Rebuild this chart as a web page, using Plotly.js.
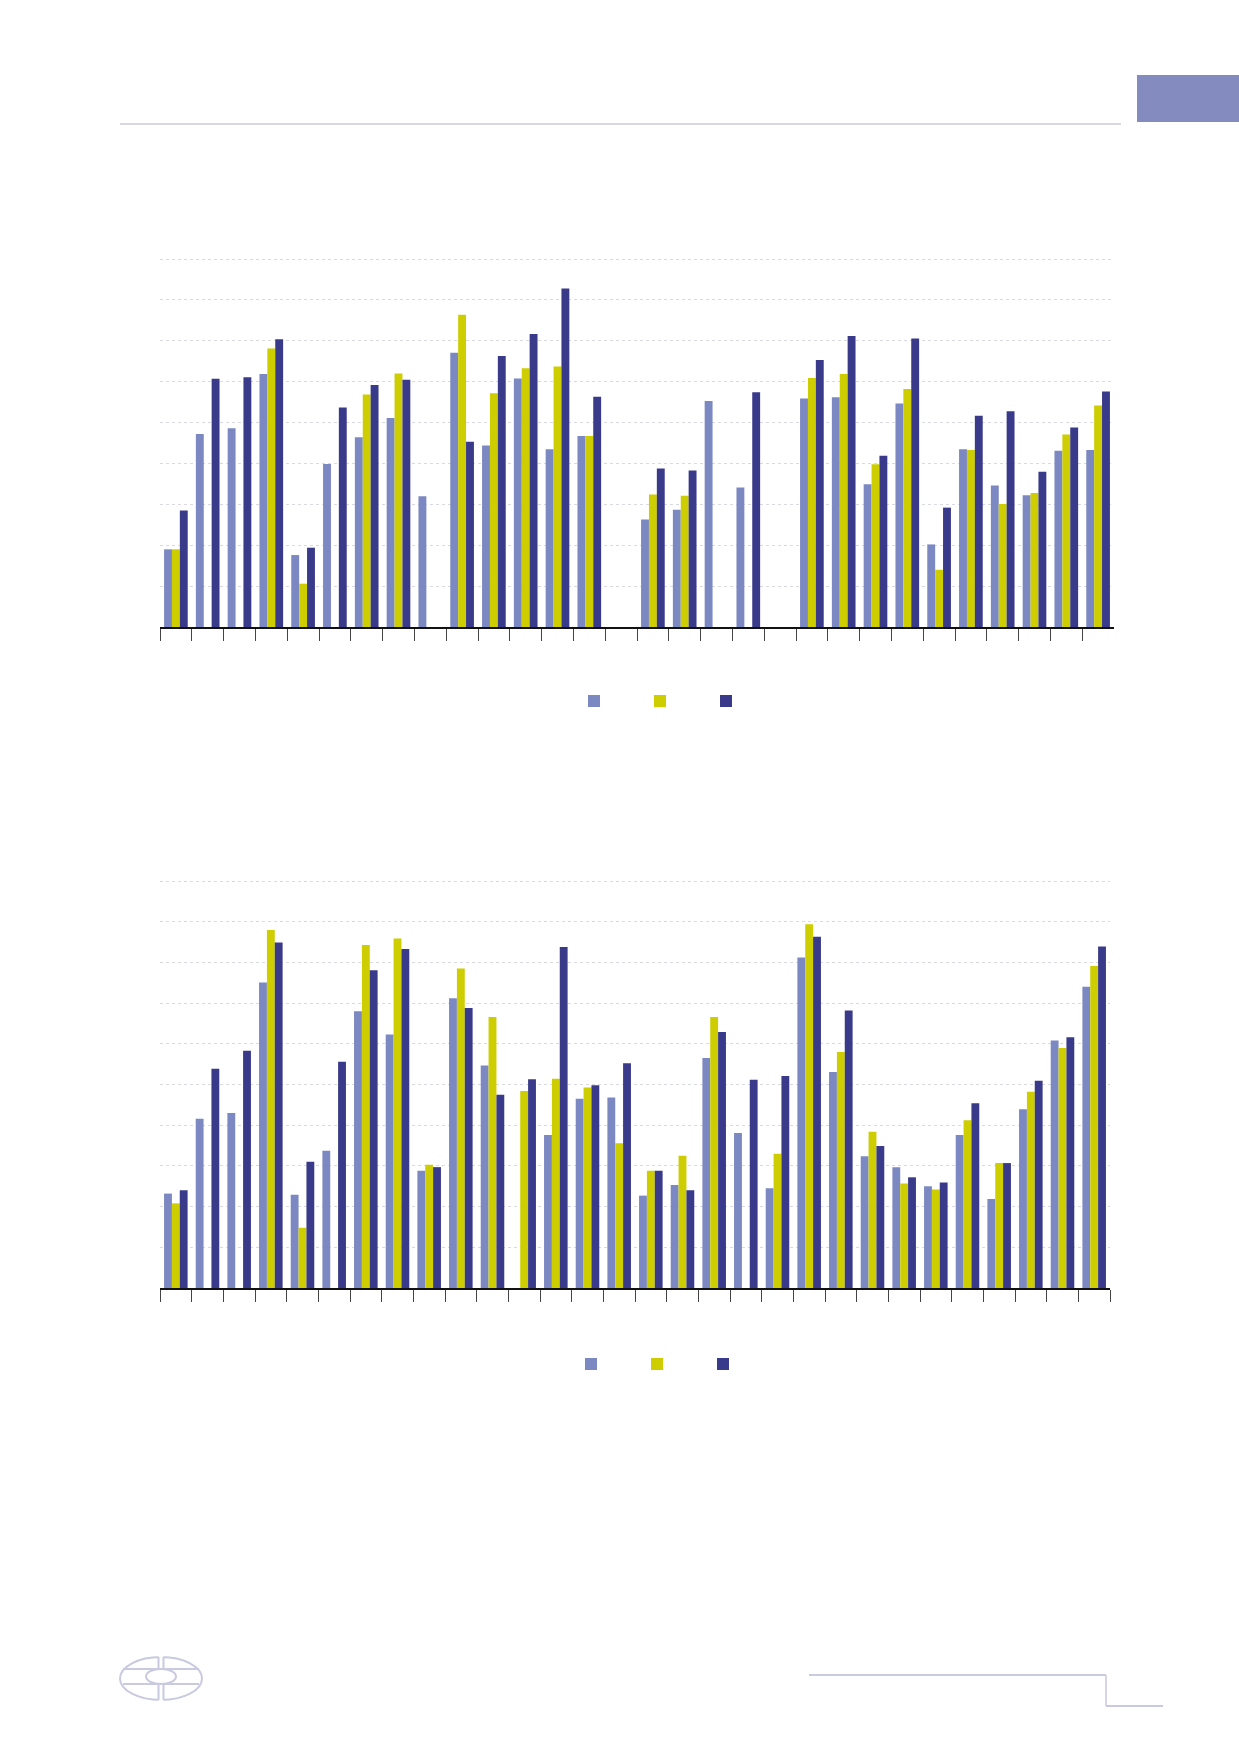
<!DOCTYPE html>
<html>
<head>
<meta charset="utf-8">
<script src="https://cdn.plot.ly/plotly-3.0.1.min.js"></script>
<style>
  html, body { margin: 0; padding: 0; background: #fff; }
  #page { width: 1239px; height: 1752px; }
</style>
</head>
<body>
<div id="page"></div>
<script>
/* ── page chart: two grouped bar panels ── */

const PAGE_W = 1239;
const PAGE_H = 1752;

const LIGHT_COLOR  = "#7c88c1";
const YELLOW_COLOR = "#cdcd00";
const DARK_COLOR   = "#3a3a8a";
const GRID_COLOR   = "#d9d9e4";
const DECO_COLOR   = "#c9c9e0";

/* categories (no labels printed on the page) */
const categories = [
  "1", "2", "3", "4", "5", "6", "7", "8", "9", "10",
  "11", "12", "13", "14", "15", "16", "17", "18", "19", "20",
  "21", "22", "23", "24", "25", "26", "27", "28", "29", "30",
];
const seriesNames = ["", "", ""];

/* upper panel */
const topLight  = [1.90, 4.72, 4.86, 6.19, 1.76, 3.99, 4.64, 5.11, 3.20, 6.71,
                   4.44, 6.08, 4.35, 4.67, null, 2.63, 2.87, 5.53, 3.41, null,
                   5.59, 5.62, 3.49, 5.47, 2.02, 4.35, 3.46, 3.22, 4.31, 4.33];
const topYellow = [1.90, null, null, 6.81, 1.06, null, 5.69, 6.20, null, 7.64,
                   5.72, 6.33, 6.37, 4.67, null, 3.24, 3.21, null, null, null,
                   6.09, 6.19, 3.98, 5.82, 1.40, 4.33, 3.01, 3.28, 4.71, 5.42];
const topDark   = [2.85, 6.07, 6.11, 7.04, 1.94, 5.37, 5.92, 6.05, null, 4.53,
                   6.63, 7.17, 8.28, 5.63, null, 3.88, 3.83, null, 5.74, null,
                   6.53, 7.12, 4.19, 7.06, 2.92, 5.17, 5.28, 3.80, 4.88, 5.76];

/* lower panel */
const botLight  = [2.32, 4.16, 4.30, 7.51, 2.29, 3.37, 6.80, 6.23, 2.88, 7.12,
                   5.47, null, 3.76, 4.65, 4.68, 2.27, 2.53, 5.65, 3.81, 2.45,
                   8.12, 5.31, 3.24, 2.97, 2.50, 3.76, 2.19, 4.39, 6.08, 7.40];
const botYellow = [2.08, null, null, 8.80, 1.48, null, 8.43, 8.59, 3.03, 7.85,
                   6.66, 4.84, 5.14, 4.93, 3.56, 2.88, 3.25, 6.66, null, 3.30,
                   8.94, 5.80, 3.84, 2.57, 2.42, 4.12, 3.07, 4.82, 5.90, 7.91];
const botDark   = [2.40, 5.39, 5.83, 8.49, 3.10, 5.56, 7.81, 8.33, 2.97, 6.88,
                   4.75, 5.13, 8.38, 4.98, 5.52, 2.88, 2.40, 6.29, 5.12, 5.21,
                   8.63, 6.82, 3.49, 2.72, 2.59, 4.54, 3.07, 5.09, 6.16, 8.39];

/* pixel -> paper helpers */
const px = x => x / PAGE_W;
const py = y => 1 - y / PAGE_H;

function barTrace(values, color, name, xa, ya, legend) {
  return {
    type: "bar",
    x: categories,
    y: values,
    name: name,
    xaxis: xa, yaxis: ya,
    legend: legend,
    marker: { color: color, line: { width: 0 } },
    hoverinfo: "skip",
  };
}

const traces = [
  barTrace(topLight,  LIGHT_COLOR,  seriesNames[0], "x",  "y",  "legend"),
  barTrace(topYellow, YELLOW_COLOR, seriesNames[1], "x",  "y",  "legend"),
  barTrace(topDark,   DARK_COLOR,   seriesNames[2], "x",  "y",  "legend"),
  barTrace(botLight,  LIGHT_COLOR,  seriesNames[0], "x2", "y2", "legend2"),
  barTrace(botYellow, YELLOW_COLOR, seriesNames[1], "x2", "y2", "legend2"),
  barTrace(botDark,   DARK_COLOR,   seriesNames[2], "x2", "y2", "legend2"),
];

const xBase = {
  type: "category",
  showline: true, linecolor: "#111", linewidth: 2,
  ticks: "outside", tickson: "boundaries", ticklen: 12, tickwidth: 1, tickcolor: "#444",
  showticklabels: false, showgrid: false, zeroline: false, fixedrange: true,
};
const yBase = {
  showgrid: true, gridcolor: GRID_COLOR, griddash: "dot", gridwidth: 1,
  dtick: 1, showticklabels: false, zeroline: false, showline: false, ticks: "",
  fixedrange: true,
};
const legendBase = {
  orientation: "h", entrywidth: 21, entrywidthmode: "pixels",
  xanchor: "left", yanchor: "middle",
  bgcolor: "rgba(0,0,0,0)", borderwidth: 0,
  font: { family: "Liberation Sans", size: 11, color: "#333" },
};

/* ── decorations: header rule, tab, logo, footer rule ── */
const shapes = [
  { type: "line", xref: "paper", yref: "paper",
    x0: px(120), x1: px(1121), y0: py(124), y1: py(124),
    line: { color: "#d8d8e2", width: 2 } },
  { type: "rect", xref: "paper", yref: "paper",
    x0: px(1137), x1: px(1239), y0: py(122), y1: py(75),
    fillcolor: "#838bbf", line: { width: 0 } },
  /* logo */
  { type: "circle", xref: "paper", yref: "paper",
    x0: px(120), x1: px(202), y0: py(1700), y1: py(1657),
    line: { color: DECO_COLOR, width: 2 } },
  { type: "line", xref: "paper", yref: "paper",
    x0: px(123), x1: px(199), y0: py(1669), y1: py(1669),
    line: { color: DECO_COLOR, width: 2 } },
  { type: "line", xref: "paper", yref: "paper",
    x0: px(123), x1: px(199), y0: py(1684), y1: py(1684),
    line: { color: DECO_COLOR, width: 2 } },
  { type: "rect", xref: "paper", yref: "paper",
    x0: px(158.5), x1: px(163.5), y0: py(1702), y1: py(1655),
    fillcolor: "#fff", line: { width: 0 } },
  { type: "circle", xref: "paper", yref: "paper",
    x0: px(146), x1: px(176), y0: py(1684), y1: py(1669),
    fillcolor: "#fff", line: { color: DECO_COLOR, width: 2 } },
  { type: "line", xref: "paper", yref: "paper",
    x0: px(158.5), x1: px(158.5), y0: py(1657), y1: py(1669),
    line: { color: DECO_COLOR, width: 2 } },
  { type: "line", xref: "paper", yref: "paper",
    x0: px(163.5), x1: px(163.5), y0: py(1657), y1: py(1669),
    line: { color: DECO_COLOR, width: 2 } },
  { type: "line", xref: "paper", yref: "paper",
    x0: px(158.5), x1: px(158.5), y0: py(1684), y1: py(1700),
    line: { color: DECO_COLOR, width: 2 } },
  { type: "line", xref: "paper", yref: "paper",
    x0: px(163.5), x1: px(163.5), y0: py(1684), y1: py(1700),
    line: { color: DECO_COLOR, width: 2 } },
  /* footer rule with step */
  { type: "line", xref: "paper", yref: "paper",
    x0: px(809), x1: px(1106), y0: py(1675), y1: py(1675),
    line: { color: DECO_COLOR, width: 2 } },
  { type: "line", xref: "paper", yref: "paper",
    x0: px(1106), x1: px(1106), y0: py(1675), y1: py(1706),
    line: { color: DECO_COLOR, width: 1.5 } },
  { type: "line", xref: "paper", yref: "paper",
    x0: px(1106), x1: px(1163), y0: py(1706), y1: py(1706),
    line: { color: DECO_COLOR, width: 2 } },
];

/* ranges run a hair past the top gridline so it is not clipped away */
const layout = {
  width: PAGE_W, height: PAGE_H,
  margin: { l: 0, r: 0, t: 0, b: 0 },
  paper_bgcolor: "#fff",
  plot_bgcolor: "#fff",
  barmode: "group",
  bargap: 0.256,
  bargroupgap: 0,
  xaxis:  Object.assign({}, xBase, { domain: [px(160), px(1114)], anchor: "y" }),
  yaxis:  Object.assign({}, yBase, { domain: [py(627), py(255)], range: [0, 9.1], anchor: "x" }),
  xaxis2: Object.assign({}, xBase, { domain: [px(160), px(1110)], anchor: "y2" }),
  yaxis2: Object.assign({}, yBase, { domain: [py(1288), py(877)], range: [0, 10.1], anchor: "x2" }),
  legend:  Object.assign({}, legendBase, { x: px(574), y: py(701) }),
  legend2: Object.assign({}, legendBase, { x: px(571), y: py(1364) }),
  shapes: shapes,
  showlegend: true,
};

Plotly.newPlot("page", traces, layout, { displayModeBar: false, staticPlot: true });
</script>
</body>
</html>
